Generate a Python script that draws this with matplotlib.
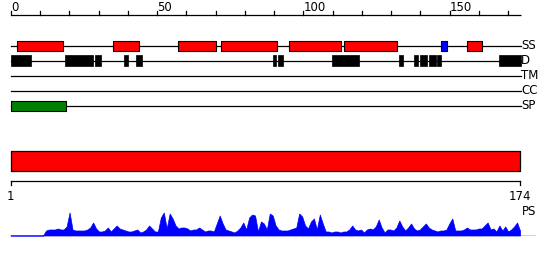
import matplotlib
matplotlib.use("Agg")
import matplotlib.pyplot as plt
import matplotlib.transforms as mtransforms

plt.rcParams['font.family'] = ['DejaVu Sans']

# ---------------- data ----------------
seq_len = 174
top_ticks = list(range(0, 171, 10))
top_tick_labels = [0, 50, 100, 150]
track_names = ["SS", "D", "TM", "CC", "SP"]

# secondary structure segments (start, end, colour)
ss_start = [2, 35, 57, 72, 95, 114, 147, 156]
ss_end = [18, 44, 70, 91, 113, 132, 149, 161]
ss_color = ["red", "red", "red", "red", "red", "red", "blue", "red"]

# disorder segments
d_start = [0, 18.7, 28.8, 38.7, 42.8, 89.5, 91.4, 109.9, 132.7, 137.8, 139.7, 143.0, 145.8, 166.8]
d_end = [7, 28.0, 30.9, 40.2, 44.9, 90.6, 92.9, 119.0, 134.0, 139.3, 142.1, 145.2, 146.9, 174.4]

# signal peptide
sp_start = [0]
sp_end = [18.8]

# domain bar
dom_start = [1]
dom_end = [174]

# per-residue profile (PS)
ps_values = [
    0, 0, 0, 0, 0, 0, 0, 0, 0, 0, 0, 0,
    5, 6, 6, 6, 7, 6, 6, 9, 23, 6, 5, 5, 5, 5, 6, 8, 13, 7,
    4, 4, 5, 8, 4, 7, 10, 7, 6, 5, 4, 4, 5, 6, 3, 4, 6, 10, 7, 4,
    4, 18, 23, 7, 22, 17, 10, 7, 8, 8, 7, 5, 6, 6, 8, 6, 4, 5, 5, 4,
    12, 20, 12, 6, 5, 4, 3, 5, 8, 13, 6, 18, 21, 20, 4, 14, 12, 6, 22, 20,
    10, 6, 5, 5, 5, 6, 7, 8, 22, 19, 10, 7, 14, 17, 6, 21, 12, 4, 4, 3,
    4, 4, 3, 4, 4, 6, 10, 6, 5, 6, 3, 6, 7, 6, 9, 16, 8, 3, 6, 6,
    5, 8, 15, 9, 5, 8, 12, 7, 5, 6, 9, 12, 8, 6, 5, 4, 5, 5, 6, 12,
    17, 5, 5, 5, 6, 8, 6, 6, 6, 7, 7, 10, 13, 6, 7, 4, 10, 5, 9, 4,
    6, 9, 13, 5,
]
residues = list(range(1, seq_len + 1))

# ---------------- layout ----------------
W, H = 550, 260
fig = plt.figure(figsize=(W / 100, H / 100), dpi=100)

x0_px, x1_px = 10.7, 520.0

def px_xlim(v0, v1):
    ppu = (x1_px - x0_px) / (v1 - v0)
    return (v0 - x0_px / ppu, v0 + (W - x0_px) / ppu)

# top part: pixel-like y coordinates (centred on pixel rows)
ax = fig.add_axes([0, 0, 1, 1])
ax.set_xlim(*px_xlim(0, seq_len))
ax.set_ylim(H - 0.5, -0.5)
ax.axis("off")

fs = 8.5
# top ruler
ruler_y = 14.5
ax.plot([0, seq_len + 0.4], [ruler_y, ruler_y], color="black", lw=0.9, solid_capstyle="butt")
for t in top_ticks:
    ax.plot([t, t], [ruler_y, ruler_y - 4], color="black", lw=0.9)
for t in top_tick_labels:
    ax.text(t + 0.1, 10.5, str(t), fontsize=fs, ha="left", va="baseline", color="black")

track_y = [45, 60, 75, 90, 105]
for name, y in zip(track_names, track_y):
    ax.plot([0, seq_len + 0.4], [y, y], color="black", lw=0.9, zorder=1)
    ax.text(seq_len + 0.4, y, name, fontsize=fs, ha="left", va="center", color="black")

# SS boxes
for s, e, c in zip(ss_start, ss_end, ss_color):
    ax.broken_barh([(s, e - s)], (track_y[0] - 5, 10), facecolors=c,
                   edgecolors="black", linewidth=0.8, zorder=2)
# D boxes
ax.broken_barh([(s, e - s) for s, e in zip(d_start, d_end)], (track_y[1] - 5.5, 11),
               facecolors="black", edgecolors="black", linewidth=0.5, zorder=2)
# SP boxes
ax.broken_barh([(s, e - s) for s, e in zip(sp_start, sp_end)], (track_y[4] - 5, 10),
               facecolors="green", edgecolors="black", linewidth=0.8, zorder=2)

# bottom part
axb = fig.add_axes([0, 0, 1, 1])
axb.set_xlim(*px_xlim(1, seq_len))
axb.set_ylim(H - 0.5, -0.5)
axb.axis("off")
axb.patch.set_alpha(0)

axb.broken_barh([(s, e - s) for s, e in zip(dom_start, dom_end)], (150, 20),
                facecolors="red", edgecolors="black", linewidth=0.9, zorder=2)
ruler2_y = 180.0
axb.plot([1, seq_len], [ruler2_y, ruler2_y], color="black", lw=0.9)
for t in [1, seq_len]:
    axb.plot([t, t], [ruler2_y, ruler2_y + 4.5], color="black", lw=0.9)
    axb.text(t, 195.5, str(t), fontsize=fs, ha="center", va="center", color="black")

# PS profile
axp = fig.add_axes([0, (H - 235.5) / H, 1, 30 / H])
axp.set_xlim(*px_xlim(1, seq_len))
axp.set_ylim(0, 30)
axp.axis("off")
axp.patch.set_alpha(0)
axp.fill_between(residues, 0, ps_values, color="blue", lw=0.5, edgecolor="blue")
axp.axhline(0, xmin=10 / W, xmax=535 / W, color="blue", lw=1.0)
trans = mtransforms.blended_transform_factory(axp.transAxes, axp.transData)
axp.text(522 / W, 24, "PS", fontsize=fs, ha="left", va="center", color="black",
         transform=trans)

fig.savefig("out.png", dpi=100)
